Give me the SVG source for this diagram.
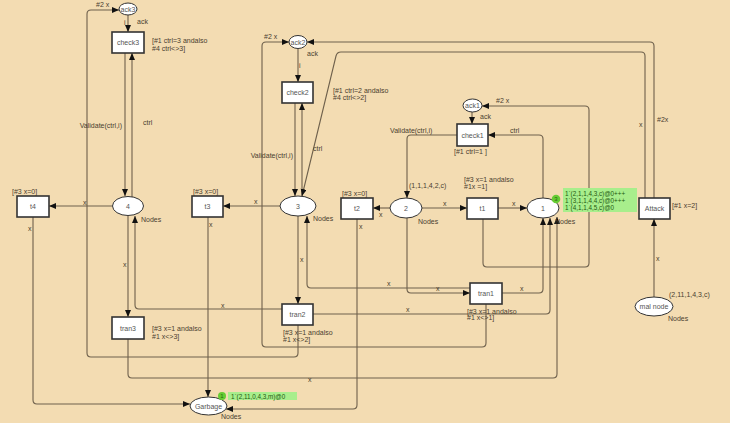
<svg xmlns="http://www.w3.org/2000/svg" width="733" height="429" viewBox="0 0 733 429">
<defs>
<marker id="ah" markerUnits="userSpaceOnUse" markerWidth="8" markerHeight="7" refX="7" refY="3" orient="auto"><path d="M0,0 L7,3 L0,6 z" fill="#111"/></marker>
<style>
.bg{fill:#f3dcb2}
.c{fill:none;stroke:#6e604c;stroke-width:1.1}
.a{marker-end:url(#ah)}
.tr{fill:#fff;stroke:#333;stroke-width:1.6}
.pl{fill:#fff;stroke:#333;stroke-width:1}
.nt{font-family:"Liberation Sans",Arial,sans-serif;font-size:7px;fill:#555;text-anchor:middle}
.lb{font-family:"Liberation Sans",Arial,sans-serif;font-size:7px;fill:#4a4030}
.tk{fill:#66cc33}
.tkt{font-family:"Liberation Sans",Arial,sans-serif;font-size:6px;fill:#2a6a10;text-anchor:middle}
.mk{fill:#a8ee8c}
.mkt{font-family:"Liberation Sans",Arial,sans-serif;font-size:6.3px;fill:#1e5a10}
</style>
</defs>
<rect x="0" y="0" width="733" height="429" fill="#fff"/>
<rect class="bg" x="0" y="0" width="730" height="423"/>

<g id="connectors">
<path class="c a" d="M128 15 V32"/>
<path class="c a" d="M125 53 V196"/>
<path class="c a" d="M132 197 V53"/>
<path class="c a" d="M112 206 H49"/>
<path class="c a" d="M33 217 V400 Q33 404 37 404 H190"/>
<path class="c a" d="M128 216 V317"/>
<path class="c a" d="M282 309 H139 Q135 309 135 305 V216"/>
<path class="c a" d="M128 339 V374 Q128 378 132 378 H553 Q557 378 557 374 V217"/>
<path class="c a" d="M298 325 V353 Q298 357 294 357 H91 Q87 357 87 353 V14 Q87 10 91 10 H119"/>
<path class="c a" d="M280 206 H223"/>
<path class="c a" d="M208 217 V397"/>
<path class="c a" d="M298 48.5 V82"/>
<path class="c a" d="M295 103 V196"/>
<path class="c a" d="M302 196 V103"/>
<path class="c a" d="M645 198 V56 Q645 52 641 52 H341 Q337 52 336 56 L302 196"/>
<path class="c a" d="M654 198 V46 Q654 42 650 42 H307"/>
<path class="c a" d="M298 216 V304"/>
<path class="c a" d="M470 288 H311 Q307 288 307 284 V216"/>
<path class="c a" d="M486 304 V343 Q486 347 482 347 H266 Q262 347 262 343 V46 Q262 42 266 42 H289"/>
<path class="c a" d="M390 208 H373"/>
<path class="c a" d="M357 219 V405 Q357 409 353 409 H226"/>
<path class="c a" d="M407 218 V289 Q407 293 411 293 H470"/>
<path class="c a" d="M422 208 H467"/>
<path class="c a" d="M498 208 H527"/>
<path class="c a" d="M483 219 V263 Q483 267 487 267 H585 Q589 267 589 263 V110 Q589 106 585 106 H482"/>
<path class="c a" d="M472 112 V124"/>
<path class="c a" d="M457 135 H411 Q407 135 407 139 V198"/>
<path class="c a" d="M543 198 V139 Q543 135 539 135 H488"/>
<path class="c a" d="M502 293 H539 Q543 293 543 289 V218"/>
<path class="c a" d="M313 314 H546 Q550 314 550 310 V218"/>
<path class="c a" d="M654 297 V219"/>
<text class="lb" x="96" y="7">#2 x</text>
<text class="lb" x="124" y="25">i</text>
<text class="lb" x="122" y="128" text-anchor="end">Validate(ctrl,i)</text>
<text class="lb" x="143" y="125">ctrl</text>
<text class="lb" x="83" y="205">x</text>
<text class="lb" x="28" y="231">x</text>
<text class="lb" x="123" y="267">x</text>
<text class="lb" x="221" y="308">x</text>
<text class="lb" x="308" y="382">x</text>
<text class="lb" x="254" y="204">x</text>
<text class="lb" x="209" y="227">x</text>
<text class="lb" x="264" y="39">#2 x</text>
<text class="lb" x="299" y="68">i</text>
<text class="lb" x="293" y="158" text-anchor="end">Validate(ctrl,i)</text>
<text class="lb" x="313" y="151">ctrl</text>
<text class="lb" x="639" y="127">x</text>
<text class="lb" x="657" y="122">#2x</text>
<text class="lb" x="300" y="262">x</text>
<text class="lb" x="387" y="286">x</text>
<text class="lb" x="379" y="217">x</text>
<text class="lb" x="359" y="229">x</text>
<text class="lb" x="436" y="291">x</text>
<text class="lb" x="443" y="206">x</text>
<text class="lb" x="512" y="206">x</text>
<text class="lb" x="496" y="103">#2 x</text>
<text class="lb" x="390" y="133">Validate(ctrl,i)</text>
<text class="lb" x="510" y="133">ctrl</text>
<text class="lb" x="520" y="291">x</text>
<text class="lb" x="406" y="312">x</text>
<text class="lb" x="656" y="261">x</text>
</g>

<g id="ack3">
<ellipse class="pl" cx="128" cy="9" rx="9" ry="6"/>
<text class="nt" x="128" y="11.5">ack3</text>
<text class="lb" x="137" y="24">ack</text>
</g>
<g id="check3">
<rect class="tr" x="112" y="32" width="32" height="21"/>
<text class="nt" x="128" y="45">check3</text>
<text class="lb" x="152" y="43">[#1 ctrl=3 andalso</text>
<text class="lb" x="152" y="51">#4 ctrl&lt;&gt;3]</text>
</g>
<g id="p4">
<ellipse class="pl" cx="128" cy="206" rx="15.5" ry="9.5"/>
<text class="nt" x="128" y="208.5">4</text>
<text class="lb" x="141" y="222">Nodes</text>
</g>
<g id="t4">
<rect class="tr" x="17" y="196" width="32" height="21"/>
<text class="nt" x="33" y="209">t4</text>
<text class="lb" x="12" y="194">[#3 x=0]</text>
</g>
<g id="t3">
<rect class="tr" x="192" y="196" width="31" height="21"/>
<text class="nt" x="207.5" y="209">t3</text>
<text class="lb" x="193" y="194">[#3 x=0]</text>
</g>
<g id="p3">
<ellipse class="pl" cx="298" cy="206" rx="18" ry="10"/>
<text class="nt" x="298" y="208.5">3</text>
<text class="lb" x="313" y="221">Nodes</text>
</g>
<g id="ack2">
<ellipse class="pl" cx="298" cy="42" rx="9" ry="6.5"/>
<text class="nt" x="298" y="44.5">ack2</text>
<text class="lb" x="307" y="56">ack</text>
</g>
<g id="check2">
<rect class="tr" x="282" y="82" width="31" height="21"/>
<text class="nt" x="297.5" y="95">check2</text>
<text class="lb" x="333" y="93">[#1 ctrl=2  andalso</text>
<text class="lb" x="333" y="100">#4 ctrl&lt;&gt;2]</text>
</g>
<g id="t2">
<rect class="tr" x="341" y="198" width="32" height="21"/>
<text class="nt" x="357" y="211">t2</text>
<text class="lb" x="342" y="196">[#3 x=0]</text>
</g>
<g id="p2">
<ellipse class="pl" cx="406" cy="208" rx="16" ry="10"/>
<text class="nt" x="406" y="210.5">2</text>
<text class="lb" x="418" y="224">Nodes</text>
<text class="lb" x="409" y="188">(1,1,1,4,2,c)</text>
</g>
<g id="t1">
<rect class="tr" x="467" y="198" width="31" height="21"/>
<text class="nt" x="482.5" y="211">t1</text>
<text class="lb" x="464" y="182">[#3 x=1 andalso</text>
<text class="lb" x="464" y="189">#1x =1]</text>
</g>
<g id="ack1">
<ellipse class="pl" cx="472.5" cy="105.5" rx="9.5" ry="6.5"/>
<text class="nt" x="472.5" y="108">ack1</text>
<text class="lb" x="480" y="119">ack</text>
</g>
<g id="check1">
<rect class="tr" x="457" y="124" width="31" height="22"/>
<text class="nt" x="472.5" y="137.5">check1</text>
<text class="lb" x="454" y="154">[#1 ctrl=1 ]</text>
</g>
<g id="p1">
<ellipse class="pl" cx="543" cy="208" rx="16" ry="10"/>
<text class="nt" x="543" y="210.5">1</text>
<text class="lb" x="555" y="224">Nodes</text>
<rect class="mk" x="563" y="188" width="74" height="24"/>
<text class="mkt" x="565" y="195.5">1`(2,1,1,4,3,c)@0+++</text>
<text class="mkt" x="565" y="202.5">1`(3,1,1,4,4,c)@0+++</text>
<text class="mkt" x="565" y="209.5">1`(4,1,1,4,5,c)@0</text>
<circle class="tk" cx="556" cy="199" r="4.3"/>
<text class="tkt" x="556" y="201">3</text>
</g>
<g id="attack">
<rect class="tr" x="639" y="198" width="31" height="21"/>
<text class="nt" x="654.5" y="211">Attack</text>
<text class="lb" x="672" y="208">[#1 x=2]</text>
</g>
<g id="malnode">
<ellipse class="pl" cx="654" cy="306.5" rx="19" ry="9.5"/>
<text class="nt" x="654" y="309">mal node</text>
<text class="lb" x="669" y="297">(2,11,1,4,3,c)</text>
<text class="lb" x="668" y="321">Nodes</text>
</g>
<g id="tran1">
<rect class="tr" x="470" y="283" width="32" height="21"/>
<text class="nt" x="486" y="296">tran1</text>
<text class="lb" x="467" y="314">[#3 x=1 andalso</text>
<text class="lb" x="467" y="320">#1 x&lt;&gt;1]</text>
</g>
<g id="tran2">
<rect class="tr" x="282" y="304" width="31" height="21"/>
<text class="nt" x="297.5" y="317">tran2</text>
<text class="lb" x="283" y="335">[#3 x=1 andalso</text>
<text class="lb" x="283" y="342">#1 x&lt;&gt;2]</text>
</g>
<g id="tran3">
<rect class="tr" x="112" y="317" width="32" height="22"/>
<text class="nt" x="128" y="330.5">tran3</text>
<text class="lb" x="152" y="331">[#3 x=1 andalso</text>
<text class="lb" x="152" y="339">#1 x&lt;&gt;3]</text>
</g>
<g id="garbage">
<ellipse class="pl" cx="208.5" cy="406" rx="18.5" ry="9"/>
<text class="nt" x="208.5" y="408.5">Garbage</text>
<text class="lb" x="221" y="419">Nodes</text>
<rect class="mk" x="228" y="392" width="69" height="8"/>
<text class="mkt" x="231" y="398.5">1`(2,11,0,4,3,m)@0</text>
<circle class="tk" cx="222" cy="396" r="4"/>
<text class="tkt" x="222" y="398">1</text>
</g>
</svg>
